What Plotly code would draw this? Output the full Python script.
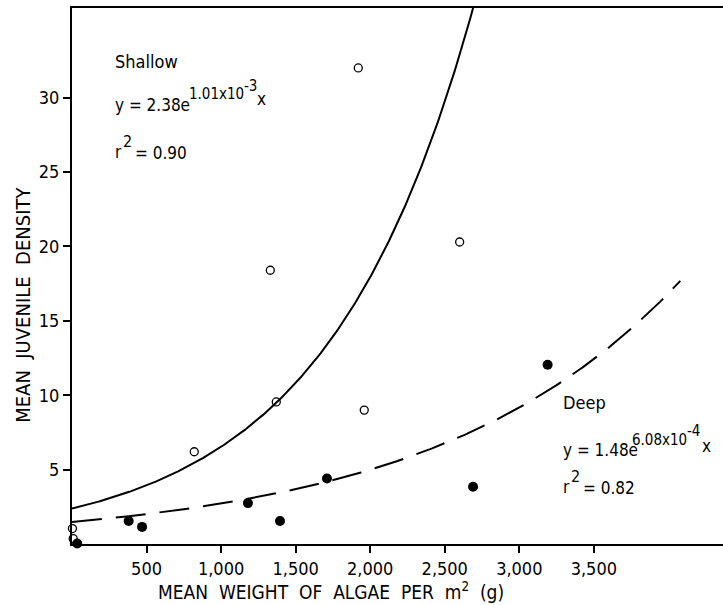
import numpy as np
import plotly.graph_objects as go

shallow_x = [3, 8, 820, 1330, 1370, 1920, 1960, 2600]
shallow_y = [1.04, 0.36, 6.2, 18.4, 9.55, 32.0, 9.0, 20.3]
deep_x = [35, 380, 470, 1180, 1395, 1710, 2690, 3190]
deep_y = [0.03, 1.55, 1.15, 2.75, 1.55, 4.4, 3.85, 12.05]

# Fitted exponential models y = a * exp(b x) (as printed on the chart)
shallow_a, shallow_b = 2.38, 1.01e-3
deep_a, deep_b = 1.48, 6.08e-4
shallow_xmax = 2800
deep_xmax = 4080

x_ticks = [500, 1000, 1500, 2000, 2500, 3000, 3500]
x_ticklabels = ["500", "1,000", "1,500", "2,000", "2,500", "3,000", "3,500"]
y_ticks = [5, 10, 15, 20, 25, 30]
y_ticklabels = ["5", "10", "15", "20", "25", "30"]

FONT = "DejaVu Sans Condensed"

xs = np.linspace(0, shallow_xmax, 300)
xd = np.linspace(0, deep_xmax, 300)

fig = go.Figure()
fig.add_trace(go.Scatter(x=xs, y=shallow_a * np.exp(shallow_b * xs), mode="lines",
                         line=dict(color="black", width=2), hoverinfo="skip"))
fig.add_trace(go.Scatter(x=xd, y=deep_a * np.exp(deep_b * xd), mode="lines",
                         line=dict(color="black", width=2, dash="30px,14px"), hoverinfo="skip"))
fig.add_trace(go.Scatter(x=shallow_x, y=shallow_y, mode="markers", cliponaxis=False,
                         marker=dict(symbol="circle-open", size=8, color="black",
                                     line=dict(width=1.3, color="black"))))
fig.add_trace(go.Scatter(x=deep_x, y=deep_y, mode="markers", cliponaxis=False,
                         marker=dict(symbol="circle", size=10, color="black")))

PL, PR, PT, PB = 72, 723, 8, 544.4
def px(x):
    return (x - PL) / (PR - PL)
def py(y):
    return (PB - y) / (PB - PT)

def txt(x, y, text, size=17, **kw):
    fig.add_annotation(x=px(x), y=py(y), xref="paper", yref="paper", text=text,
                       showarrow=False, xanchor=kw.get("xanchor", "left"), yanchor="middle",
                       textangle=kw.get("textangle", 0),
                       font=dict(family=FONT, size=size, color="black"))

# Shallow labels
txt(113, 62, "Shallow", 18)
txt(113, 105, "y = 2.38e")
txt(187, 94, "1.01x10", 15)
txt(242, 86, "-3", 15)
txt(255, 99, "x")
txt(113, 152, "r")
txt(121, 142, "2", 16)
txt(133, 153, "= 0.90")

# Deep labels
txt(561, 403, "Deep", 18)
txt(561, 450, "y = 1.48e")
txt(630, 440, "6.08x10", 15)
txt(685, 431, "-4", 15)
txt(700, 446, "x")
txt(561, 487, "r")
txt(569, 477, "2", 16)
txt(581, 488, "= 0.82")

# Axis titles
txt(331, 591, "MEAN  WEIGHT  OF  ALGAE  PER  m<sup>2</sup>  (g)", 19, xanchor="center")
txt(23, 305, "MEAN  JUVENILE  DENSITY", 20, xanchor="center", textangle=-90)

fig.update_layout(
    width=723, height=605, showlegend=False,
    margin=dict(l=72, r=0, t=8, b=61),
    plot_bgcolor="white", paper_bgcolor="white",
    font=dict(family=FONT, size=18, color="black"),
)
fig.update_xaxes(range=[0, (723 - 72) / 0.1491], showgrid=False, zeroline=False,
                 showline=True, linecolor="black", linewidth=2, mirror=True,
                 ticks="outside", ticklen=7, tickwidth=2, tickcolor="black",
                 tickvals=x_ticks, ticktext=x_ticklabels, tickfont=dict(size=18))
fig.update_yaxes(range=[0, 36.03], showgrid=False, zeroline=False,
                 showline=True, linecolor="black", linewidth=2,
                 ticks="outside", ticklen=7, tickwidth=2, tickcolor="black",
                 tickvals=y_ticks, ticktext=y_ticklabels, tickfont=dict(size=18))

fig.write_html("out.html", config={"displayModeBar": False},
               post_script="document.body.style.margin='0';")
